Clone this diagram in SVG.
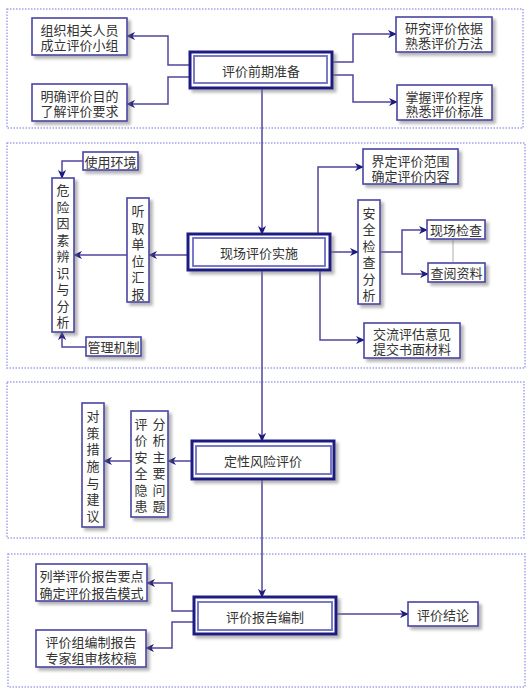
<svg xmlns="http://www.w3.org/2000/svg" width="530" height="694" viewBox="0 0 530 694">
<defs>
<filter id="sh" x="-20%" y="-20%" width="150%" height="150%">
<feDropShadow dx="3" dy="3" stdDeviation="1.6" flood-color="#777" flood-opacity="0.55"/>
</filter>
<marker id="ar" viewBox="0 0 10 10" refX="9" refY="5" markerWidth="9" markerHeight="9" markerUnits="userSpaceOnUse" orient="auto">
<path d="M0,0.5 L10,5 L0,9.5 L3,5 z" fill="#1c1a7c"/>
</marker>
</defs>
<style>
.sec{fill:none;stroke:#a3a3f0;stroke-width:1.5;stroke-dasharray:1.5,1.5}
.bx{fill:#fff;stroke:#4a44a4;stroke-width:1.6;filter:url(#sh)}
.mo{fill:#fff;stroke:#1c1a84;stroke-width:3;filter:url(#sh)}
.mi{fill:#fff;stroke:#6c6cc4;stroke-width:1.8}
.t{font-family:"Noto Sans CJK SC","Noto Sans CJK JP",sans-serif;font-size:13px;fill:#333;text-anchor:middle;dominant-baseline:central}
.ln{fill:none;stroke:#51449f;stroke-width:1.5;marker-end:url(#ar)}
.ln2{fill:none;stroke:#51449f;stroke-width:1.5}
</style>
<rect width="530" height="694" fill="#fff"/>
<g id="sections">
<rect class="sec" x="7" y="9" width="516" height="119"/>
<rect class="sec" x="7" y="143" width="518" height="225"/>
<rect class="sec" x="7" y="382" width="517" height="156"/>
<rect class="sec" x="8" y="554" width="517" height="133"/>
</g>
<g id="connectors">
<path class="ln" d="M262,88 V234"/>
<path class="ln" d="M262,270 V441"/>
<path class="ln" d="M262,479 V597"/>
<path class="ln" d="M190,65 H168 V36 H127"/>
<path class="ln" d="M190,77 H168 V104 H127"/>
<path class="ln" d="M332,62 H353 V34 H396"/>
<path class="ln" d="M332,75 H353 V102 H397"/>
<path class="ln" d="M188,255 H149"/>
<path class="ln" d="M127,255 H74"/>
<path class="ln" d="M83,161 H62 V178"/>
<path class="ln" d="M86,347 H62 V332"/>
<path class="ln" d="M318,234 V167 H363"/>
<path class="ln" d="M330,252 H358"/>
<path class="ln2" d="M380,252 H402"/>
<path class="ln" d="M402,252 V230 H427"/>
<path class="ln" d="M402,252 V274 H428"/>
<path d="M453,240 V262" stroke="#c8c8c8" stroke-width="1.5" fill="none"/>
<path class="ln" d="M320,270 V340 H364"/>
<path class="ln" d="M192,461 H168"/>
<path class="ln" d="M131,461 H104"/>
<path class="ln" d="M194,611 H172 V583 H147"/>
<path class="ln" d="M194,622 H172 V648 H146"/>
<path class="ln" d="M336,614 H408"/>
</g>
<g id="n_prep">
<rect class="mo" x="190" y="52" width="142" height="36"/>
<rect class="mi" x="194" y="56" width="133" height="27"/>
<text class="t" x="261" y="70">评价前期准备</text>
</g>
<g id="n_team">
<rect class="bx" x="32" y="18" width="95" height="37"/>
<text class="t"><tspan x="79.5" y="29">组织相关人员</tspan><tspan x="79.5" y="44">成立评价小组</tspan></text>
</g>
<g id="n_goal">
<rect class="bx" x="32" y="84" width="95" height="37"/>
<text class="t"><tspan x="79.5" y="95">明确评价目的</tspan><tspan x="79.5" y="110">了解评价要求</tspan></text>
</g>
<g id="n_basis">
<rect class="bx" x="396" y="17" width="96" height="35"/>
<text class="t"><tspan x="444" y="27">研究评价依据</tspan><tspan x="444" y="42">熟悉评价方法</tspan></text>
</g>
<g id="n_proc">
<rect class="bx" x="397" y="85" width="95" height="35"/>
<text class="t"><tspan x="444.5" y="95.5">掌握评价程序</tspan><tspan x="444.5" y="110">熟悉评价标准</tspan></text>
</g>
<g id="n_site">
<rect class="mo" x="188" y="234" width="142" height="36"/>
<rect class="mi" x="193" y="238" width="132" height="28"/>
<text class="t" x="259" y="252">现场评价实施</text>
</g>
<g id="n_env">
<rect class="bx" x="83" y="152" width="55" height="18"/>
<text class="t" x="110.5" y="161">使用环境</text>
</g>
<g id="n_hazard">
<rect class="bx" x="52" y="178" width="22" height="154"/>
<text class="t"><tspan x="63" y="189">危</tspan><tspan x="63" y="205.5">险</tspan><tspan x="63" y="222">因</tspan><tspan x="63" y="238.5">素</tspan><tspan x="63" y="255">辨</tspan><tspan x="63" y="271.5">识</tspan><tspan x="63" y="288">与</tspan><tspan x="63" y="304.5">分</tspan><tspan x="63" y="321">析</tspan></text>
</g>
<g id="n_listen">
<rect class="bx" x="127" y="198" width="22" height="104"/>
<text class="t"><tspan x="138" y="210">听</tspan><tspan x="138" y="226.6">取</tspan><tspan x="138" y="243.2">单</tspan><tspan x="138" y="259.8">位</tspan><tspan x="138" y="276.4">汇</tspan><tspan x="138" y="293">报</tspan></text>
</g>
<g id="n_mgmt">
<rect class="bx" x="86" y="337" width="55" height="19"/>
<text class="t" x="113.5" y="346.5">管理机制</text>
</g>
<g id="n_scope">
<rect class="bx" x="363" y="149" width="95" height="35"/>
<text class="t"><tspan x="410.5" y="159.5">界定评价范围</tspan><tspan x="410.5" y="175">确定评价内容</tspan></text>
</g>
<g id="n_safety">
<rect class="bx" x="358" y="200" width="22" height="104"/>
<text class="t"><tspan x="369" y="212">安</tspan><tspan x="369" y="228.4">全</tspan><tspan x="369" y="244.8">检</tspan><tspan x="369" y="261.2">查</tspan><tspan x="369" y="277.6">分</tspan><tspan x="369" y="294">析</tspan></text>
</g>
<g id="n_check">
<rect class="bx" x="427" y="220" width="58" height="19"/>
<text class="t" x="456" y="229.5">现场检查</text>
</g>
<g id="n_docs">
<rect class="bx" x="428" y="263" width="57" height="19"/>
<text class="t" x="456.5" y="272.5">查阅资料</text>
</g>
<g id="n_exch">
<rect class="bx" x="364" y="323" width="96" height="35"/>
<text class="t"><tspan x="412" y="332.5">交流评估意见</tspan><tspan x="412" y="348">提交书面材料</tspan></text>
</g>
<g id="n_qual">
<rect class="mo" x="192" y="441" width="142" height="38"/>
<rect class="mi" x="196" y="446" width="135" height="28"/>
<text class="t" x="263" y="460">定性风险评价</text>
</g>
<g id="n_analyze">
<rect class="bx" x="131" y="411" width="37" height="106"/>
<text class="t"><tspan x="159" y="423">分</tspan><tspan x="159" y="439.4">析</tspan><tspan x="159" y="455.8">主</tspan><tspan x="159" y="472.2">要</tspan><tspan x="159" y="488.6">问</tspan><tspan x="159" y="505">题</tspan><tspan x="141" y="423">评</tspan><tspan x="141" y="439.4">价</tspan><tspan x="141" y="455.8">安</tspan><tspan x="141" y="472.2">全</tspan><tspan x="141" y="488.6">隐</tspan><tspan x="141" y="505">患</tspan></text>
</g>
<g id="n_measures">
<rect class="bx" x="82" y="403" width="22" height="124"/>
<text class="t"><tspan x="93" y="415">对</tspan><tspan x="93" y="431.7">策</tspan><tspan x="93" y="448.4">措</tspan><tspan x="93" y="465">施</tspan><tspan x="93" y="481.7">与</tspan><tspan x="93" y="498.4">建</tspan><tspan x="93" y="515">议</tspan></text>
</g>
<g id="n_report">
<rect class="mo" x="194" y="597" width="142" height="37"/>
<rect class="mi" x="198" y="602" width="134" height="28"/>
<text class="t" x="265" y="616">评价报告编制</text>
</g>
<g id="n_points">
<rect class="bx" x="36" y="564" width="111" height="37"/>
<text class="t"><tspan x="91.5" y="574.5">列举评价报告要点</tspan><tspan x="91.5" y="591.5">确定评价报告模式</tspan></text>
</g>
<g id="n_compile">
<rect class="bx" x="36" y="630" width="110" height="37"/>
<text class="t"><tspan x="91" y="640.5">评价组编制报告</tspan><tspan x="91" y="657">专家组审核校稿</tspan></text>
</g>
<g id="n_concl">
<rect class="bx" x="408" y="602" width="70" height="24"/>
<text class="t" x="443" y="614">评价结论</text>
</g>
</svg>
